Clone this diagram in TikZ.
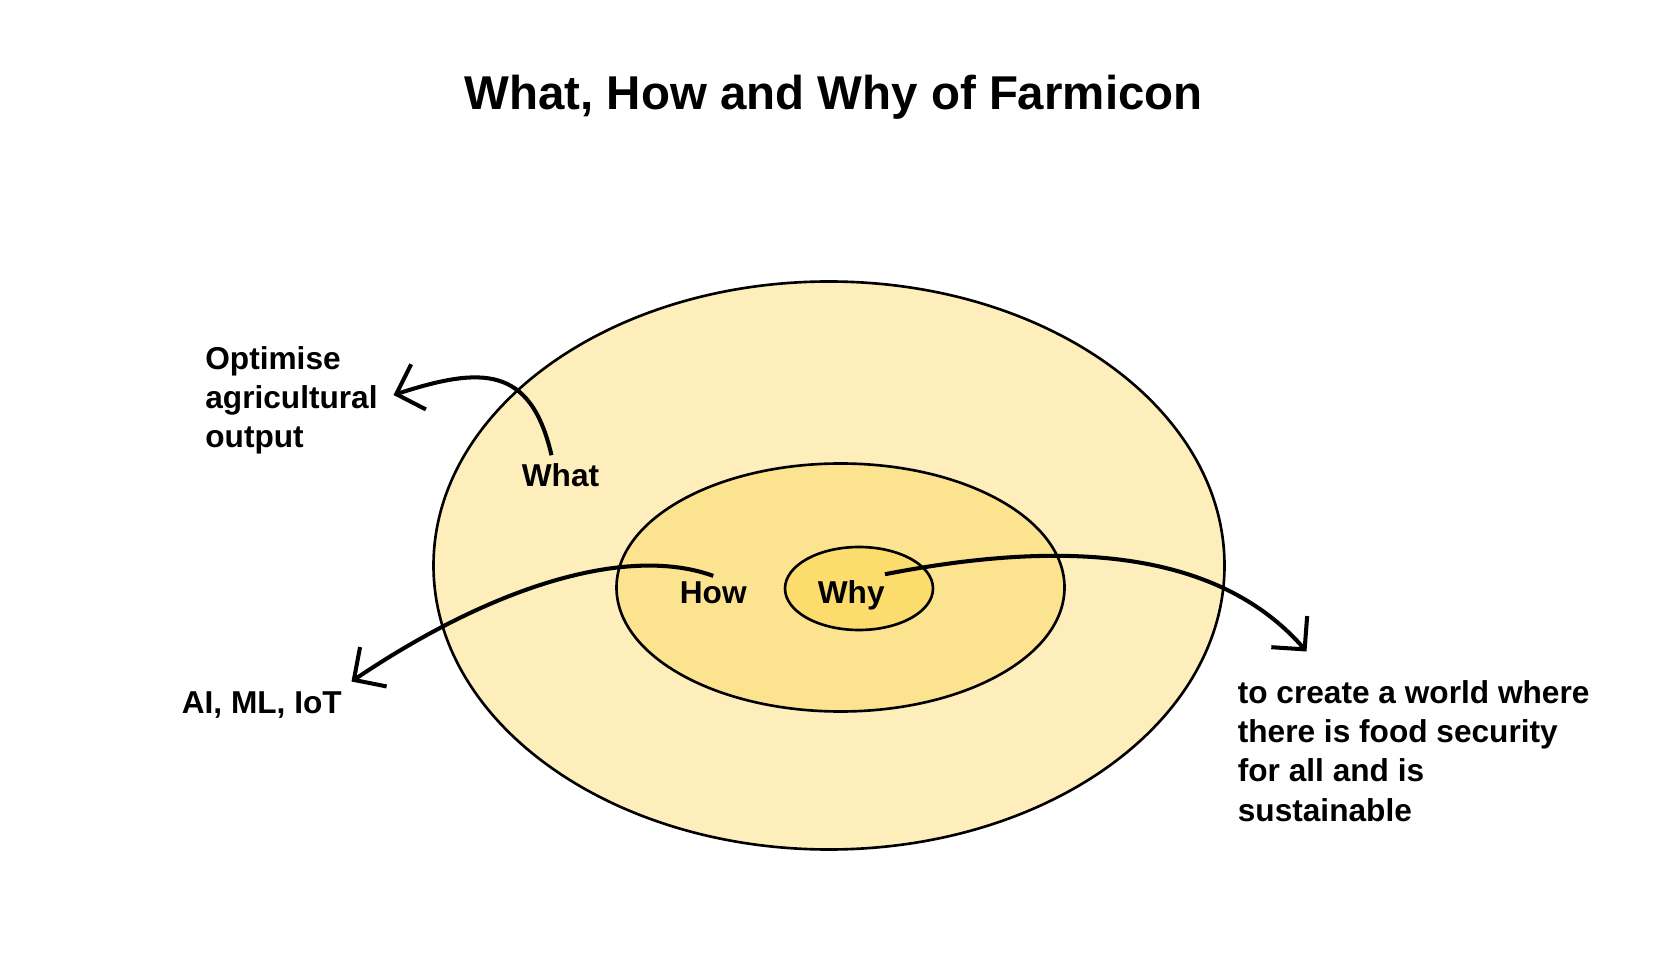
\documentclass[tikz,border=0pt]{standalone}
\usepackage{fontspec}
\setmainfont{Liberation Sans}
\usepackage{xcolor}
\usepackage{tikz}
\usetikzlibrary{arrows.meta, positioning, calc, shapes.geometric}

\definecolor{ringOut}{HTML}{FDEEBB}
\definecolor{ringMid}{HTML}{FCE390}
\definecolor{ringIn}{HTML}{FBDC6D}

\begin{document}
\begin{tikzpicture}[
  ring/.style={draw, ellipse, line width=1.5pt, inner sep=0pt},
  lbl/.style={font=\fontsize{18}{22.2}\selectfont\bfseries, align=left, inner sep=0pt, anchor=base west},
  ttl/.style={font=\fontsize{27}{32}\selectfont\bfseries, inner sep=0pt, anchor=base},
  thk/.style={-{Straight Barb[length=4.7mm, width=9.5mm]}, line width=2.3pt},
]
\useasboundingbox (0,0) rectangle (33.34,19.36);

%% ---- Title ----
\node[ttl] (title) at (16.67, 17.16) {What, How and Why of Farmicon};

%% ---- Rings ----
\node[ring, fill=ringOut, minimum width=15.82cm, minimum height=11.36cm] (outerE) at (16.58, 8.05) {};
\node[ring, fill=ringMid, minimum width=8.96cm, minimum height=4.96cm]   (midE)   at (16.81, 7.61) {};
\node[ring, fill=ringIn, minimum width=2.96cm, minimum height=1.66cm]    (innerE) at (17.18, 7.59) {};

%% ---- Ring labels ----
\node[lbl] (what) at (10.43, 9.62) {What};
\node[lbl] (how)  at (13.59, 7.29) {How};
\node[lbl] (why)  at (16.35, 7.29) {Why};

%% ---- Answers (base = last line) ----
\node[lbl] (opt)  at (4.10, 10.41) {Optimise\\agricultural\\output};
\node[lbl] (ai)   at (3.63, 5.10)  {AI, ML, IoT};
\node[lbl] (goal) at (24.75, 2.94)
  {to create a world where\\there is food security\\for all and is\\sustainable};

%% ---- Arrow tips ----
\coordinate (optTip)  at (7.87, 11.46);
\coordinate (aiTip)   at (7.03, 5.73);
\coordinate (goalTip) at (26.13, 6.33);

%% ---- Connectors ----
\draw[thk] ([shift={(-0.18,0.17)}]what.north) to[out=103, in=18, looseness=1.4] (optTip);
\draw[thk] ([yshift=0.11cm]how.north) to[out=160, in=34, out looseness=0.6, in looseness=1.2] (aiTip);
\draw[thk] ([yshift=0.12cm]why.north east) to[out=11, in=131, looseness=0.9] (goalTip);
\end{tikzpicture}
\end{document}
